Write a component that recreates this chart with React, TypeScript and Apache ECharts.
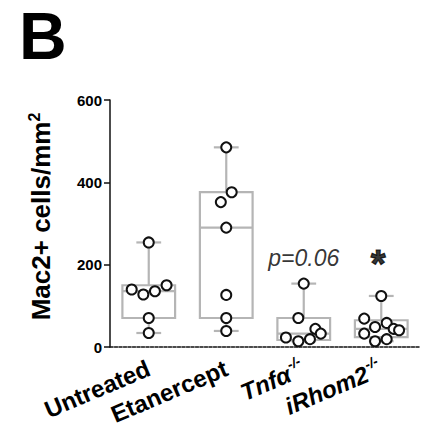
import React, { useEffect, useRef } from "react";
import * as echarts from "echarts";

const categories = ["Untreated", "Etanercept", "Tnfα", "iRhom2"];
const italicCats = [false, false, true, true];
const superscripts = ["", "", "-/-", "-/-"];

// box stats: [min, q1, median, q3, max]
const boxStats = [
  [34, 70.5, 135.5, 150, 254],
  [39, 70.5, 290, 376, 485],
  [14, 17, 32.5, 70.5, 154],
  [14, 24, 44, 65, 124],
];

const untreatedValues = [254, 139.6, 127.5, 135.5, 150, 70.5, 34];
const untreatedJitter = [0, -0.22, -0.07, 0.08, 0.23, 0, 0];
const etanerceptValues = [485, 376, 352, 290, 126.5, 70.5, 39];
const etanerceptJitter = [0, 0.07, -0.07, 0, 0, 0, 0];
const tnfaValues = [154, 70.5, 44, 32.5, 23, 14, 19];
const tnfaJitter = [0, -0.07, 0.15, 0.22, -0.23, -0.07, 0.08];
const irhomValues = [124, 69, 58.5, 48.6, 44, 40.6, 32.5, 14, 19];
const irhomJitter = [0, -0.22, 0.07, -0.08, 0.16, 0.23, -0.22, -0.08, 0.07];

const groupValues = [untreatedValues, etanerceptValues, tnfaValues, irhomValues];
const groupJitter = [untreatedJitter, etanerceptJitter, tnfaJitter, irhomJitter];

const annotationTexts = ["p=0.06", "*"];
const annotationCats = [2, 3];
const annotationValues = [215, 215];

const yTicks = { min: 0, max: 600, interval: 200 };

const FONT = "Liberation Sans, Arial, sans-serif";

export default function App() {
  const ref = useRef<HTMLDivElement>(null);
  useEffect(() => {
    document.body.style.margin = "0";
    if (!ref.current) return;
    const chart = echarts.init(ref.current, null, { renderer: "svg" });

    const points: number[][] = [];
    groupValues.forEach((vals, gi) => {
      vals.forEach((v, i) => points.push([gi + groupJitter[gi][i], v]));
    });

    const boxData = boxStats.map((s, i) => [i, ...s]);

    const option: any = {
      animation: false,
      backgroundColor: "#ffffff",
      grid: { left: 110, right: 12, top: 100, bottom: 92, containLabel: false },
      graphic: [
        {
          type: "text",
          left: 19,
          top: 3,
          style: { text: "B", fontFamily: FONT, fontWeight: "bold", fontSize: 66, fill: "#000" },
        },
      ],
      xAxis: [
        {
          type: "category",
          data: categories,
          boundaryGap: true,
          axisLine: { onZero: false, lineStyle: { color: "#111", width: 1.5, type: [3, 1.5] } },
          axisTick: { show: false },
          axisLabel: {
            rotate: 23,
            margin: 20,
            interval: 0,
            color: "#000",
            formatter: (val: string, idx: number) => {
              const base = italicCats[idx] ? "i" : "b";
              const sup = superscripts[idx];
              return sup ? `{${base}|${val}}{sup|${sup}}` : `{${base}|${val}}`;
            },
            rich: {
              b: { fontFamily: FONT, fontWeight: "bold", fontSize: 24, color: "#000", lineHeight: 30 },
              i: { fontFamily: FONT, fontWeight: "bold", fontStyle: "italic", fontSize: 24, color: "#000", lineHeight: 30 },
              sup: { fontFamily: FONT, fontWeight: "bold", fontStyle: "italic", fontSize: 14, color: "#000", padding: [0, 1, 16, 1] },
            },
          },
        },
        {
          type: "value",
          min: -0.5,
          max: 3.5,
          show: false,
        },
      ],
      yAxis: {
        type: "value",
        min: yTicks.min,
        max: yTicks.max,
        interval: yTicks.interval,
        splitLine: { show: false },
        axisLine: { show: true, onZero: false, lineStyle: { color: "#111", width: 1.5 } },
        axisTick: { show: true, length: 6, lineStyle: { color: "#111", width: 1.5 } },
        axisLabel: { color: "#000", fontFamily: FONT, fontWeight: "bold", fontSize: 15, margin: 8 },
        name: "{a|Mac2+ cells/mm}{sup|2}",
        nameLocation: "middle",
        nameRotate: 90,
        nameGap: 54,
        nameTextStyle: {
          padding: [0, 0, 0, 14],
          rich: {
            a: { fontFamily: FONT, fontWeight: "bold", fontSize: 26, color: "#000", lineHeight: 30 },
            sup: { fontFamily: FONT, fontWeight: "bold", fontSize: 16, color: "#000", verticalAlign: "top" },
          },
        },
      },
      series: [
        {
          type: "custom",
          xAxisIndex: 1,
          data: boxData,
          z: 1,
          renderItem: (params: any, api: any) => {
            const idx = api.value(0);
            const pMin = api.coord([idx, api.value(1)]);
            const pQ1 = api.coord([idx, api.value(2)]);
            const pMed = api.coord([idx, api.value(3)]);
            const pQ3 = api.coord([idx, api.value(4)]);
            const pMax = api.coord([idx, api.value(5)]);
            const band = api.size([1, 0])[0];
            const hw = band * 0.34;
            const cw = band * 0.16;
            const x = pMin[0];
            const style = { stroke: "#b5b5b5", lineWidth: 2.2, fill: "none" };
            return {
              type: "group",
              children: [
                { type: "line", shape: { x1: x, y1: pMax[1], x2: x, y2: pQ3[1] }, style },
                { type: "line", shape: { x1: x, y1: pQ1[1], x2: x, y2: pMin[1] }, style },
                { type: "line", shape: { x1: x - cw, y1: pMax[1], x2: x + cw, y2: pMax[1] }, style },
                { type: "line", shape: { x1: x - cw, y1: pMin[1], x2: x + cw, y2: pMin[1] }, style },
                { type: "rect", shape: { x: x - hw, y: pQ3[1], width: hw * 2, height: pQ1[1] - pQ3[1] }, style: { ...style, fill: "#ffffff" } },
                { type: "line", shape: { x1: x - hw, y1: pMed[1], x2: x + hw, y2: pMed[1] }, style },
              ],
            };
          },
        },
        {
          type: "scatter",
          xAxisIndex: 1,
          data: points,
          symbol: "circle",
          symbolSize: 10,
          z: 3,
          itemStyle: { color: "#ffffff", borderColor: "#111", borderWidth: 2, opacity: 1 },
        },
        {
          type: "scatter",
          xAxisIndex: 1,
          data: annotationCats.map((c, i) => [c, annotationValues[i]]),
          symbol: "circle",
          symbolSize: 2,
          itemStyle: { color: "rgba(255,255,255,0)" },
          z: 4,
          silent: true,
          label: {
            show: true,
            position: [1, 1],
            align: "center",
            verticalAlign: "middle",
            color: "#000",
            textBorderWidth: 0,
            formatter: (p: any) => {
              const t = annotationTexts[p.dataIndex];
              return t === "*" ? `{star|${t}}` : `{p|${t}}`;
            },
            rich: {
              p: { fontFamily: FONT, fontStyle: "italic", fontSize: 23, color: "#000" },
              star: {
                fontFamily: FONT,
                fontWeight: "bold",
                fontSize: 38,
                color: "#000",
                textBorderColor: "#000",
                textBorderWidth: 1.2,
                padding: [12, 6, 0, 0],
              },
            },
          },
        },
      ],
    };
    chart.setOption(option);
    return () => chart.dispose();
  }, []);
  return <div ref={ref} style={{ width: 432, height: 439 }} />;
}
